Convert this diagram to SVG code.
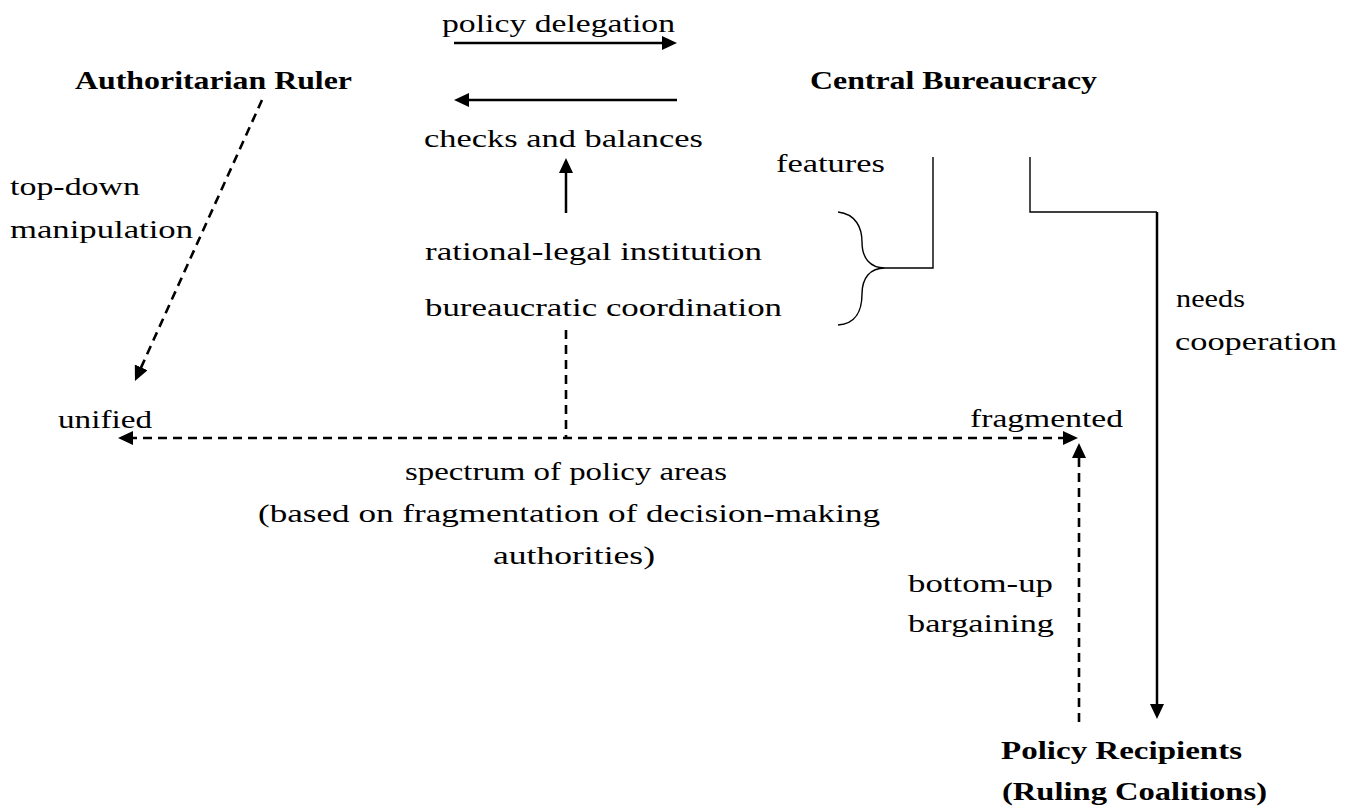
<svg xmlns="http://www.w3.org/2000/svg" width="1355" height="810" viewBox="0 0 1355 810">
<style>
text{font-family:'Liberation Serif','DejaVu Serif',serif;font-size:26px;fill:#000}
.b{font-weight:bold}
.s{fill:none;stroke:#000;stroke-width:2.5}
.d{fill:none;stroke:#000;stroke-width:2.6;stroke-dasharray:9 6}
.t{fill:none;stroke:#000;stroke-width:1.4}
</style>
<defs>
<marker id="ah" viewBox="0 0 15 14" markerWidth="15" markerHeight="14" refX="5" refY="7" orient="auto-start-reverse" markerUnits="userSpaceOnUse">
<path d="M0,0 L15,7 L0,14 z" fill="#000"/>
</marker>
</defs>
<rect width="1355" height="810" fill="#fff"/>
<g id="connectors">
<line class="s" x1="454" y1="43" x2="667" y2="43" marker-end="url(#ah)"/>
<line class="s" x1="677" y1="100" x2="464" y2="100" marker-end="url(#ah)"/>
<line class="s" x1="566" y1="213" x2="566" y2="168" marker-end="url(#ah)"/>
<line class="d" x1="262" y1="100" x2="139.1" y2="371.9" marker-end="url(#ah)"/>
<line class="d" x1="128" y1="438" x2="1068" y2="438" marker-start="url(#ah)" marker-end="url(#ah)"/>
<line class="d" x1="566" y1="330" x2="566" y2="438"/>
<line class="d" x1="1079" y1="722" x2="1079" y2="453" marker-end="url(#ah)"/>
<path class="t" d="M838,212 C856,214 862,228 862,242 C862,258 870,268 885,268 C870,268 862,278 862,294 C862,310 856,324 838,325"/>
<path class="t" d="M885,268 H933 V157"/>
<path class="t" d="M1030,157 V212 H1157"/>
<path class="s" d="M1157,212 V709" marker-end="url(#ah)"/>
</g>
<g font-family="Liberation Serif, DejaVu Serif, serif">
<g id="ruler"><text class="b" x="75" y="89" textLength="277" lengthAdjust="spacingAndGlyphs">Authoritarian Ruler</text></g>
<g id="bureaucracy"><text class="b" x="810" y="89" textLength="287" lengthAdjust="spacingAndGlyphs">Central Bureaucracy</text></g>
<g id="recipients">
<text class="b" x="1001" y="759" textLength="241" lengthAdjust="spacingAndGlyphs">Policy Recipients</text>
<text class="b" x="1002" y="800" textLength="265" lengthAdjust="spacingAndGlyphs">(Ruling Coalitions)</text>
</g>
<g id="institution">
<text x="425" y="260" textLength="337" lengthAdjust="spacingAndGlyphs">rational-legal institution</text>
<text x="425" y="316" textLength="357" lengthAdjust="spacingAndGlyphs">bureaucratic coordination</text>
</g>
<g id="spectrum">
<text x="58" y="428" textLength="94" lengthAdjust="spacingAndGlyphs">unified</text>
<text x="970" y="427" textLength="153" lengthAdjust="spacingAndGlyphs">fragmented</text>
<text x="405" y="480" textLength="322" lengthAdjust="spacingAndGlyphs">spectrum of policy areas</text>
<text x="258" y="522" textLength="622" lengthAdjust="spacingAndGlyphs">(based on fragmentation of decision-making</text>
<text x="493" y="564" textLength="162" lengthAdjust="spacingAndGlyphs">authorities)</text>
</g>
<g id="labels">
<text x="442" y="32" textLength="233" lengthAdjust="spacingAndGlyphs">policy delegation</text>
<text x="424" y="147" textLength="279" lengthAdjust="spacingAndGlyphs">checks and balances</text>
<text x="776" y="172" textLength="109" lengthAdjust="spacingAndGlyphs">features</text>
<text x="10" y="195" textLength="130" lengthAdjust="spacingAndGlyphs">top-down</text>
<text x="10" y="238" textLength="183" lengthAdjust="spacingAndGlyphs">manipulation</text>
<text x="1176" y="307" textLength="69" lengthAdjust="spacingAndGlyphs">needs</text>
<text x="1175" y="350" textLength="162" lengthAdjust="spacingAndGlyphs">cooperation</text>
<text x="908" y="592" textLength="145" lengthAdjust="spacingAndGlyphs">bottom-up</text>
<text x="908" y="632" textLength="146" lengthAdjust="spacingAndGlyphs">bargaining</text>
</g>
</g>
</svg>
